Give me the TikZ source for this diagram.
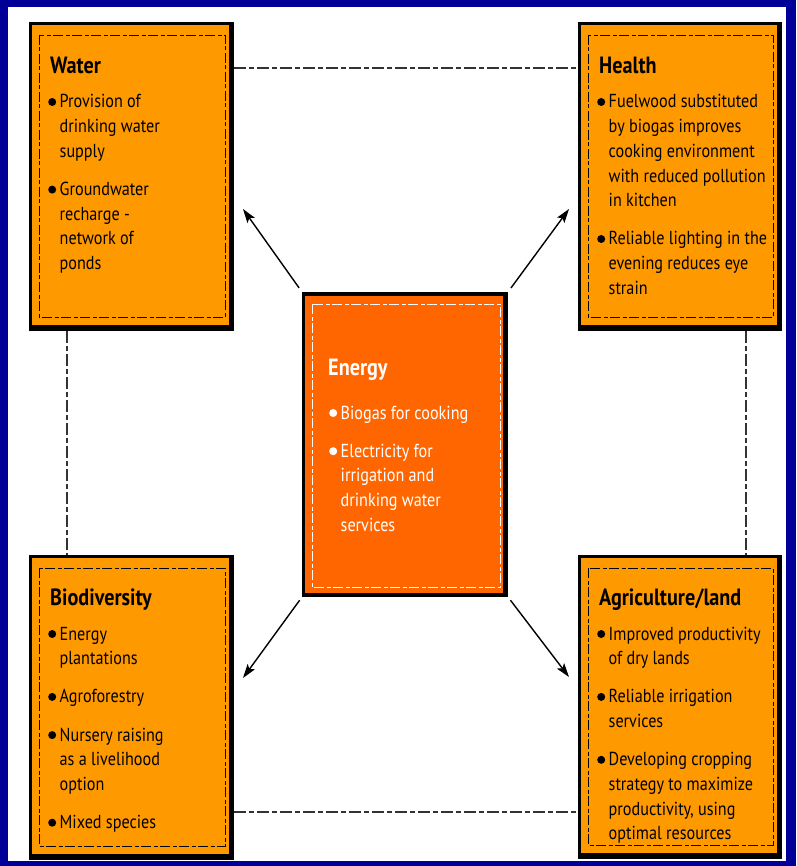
\documentclass[tikz,border=0pt]{standalone}
\usepackage{fontspec}
\setmainfont{PT Sans}[FakeStretch=0.86]
\usetikzlibrary{arrows.meta,calc}
\definecolor{frameblue}{RGB}{0,0,153}
\definecolor{boxorange}{RGB}{255,153,0}
\definecolor{coreorange}{RGB}{255,102,0}
\newcommand{\bodyfont}{\fontsize{18.8}{24.7}\selectfont}
\newcommand{\titlefont}{\fontsize{23.5}{26}\selectfont\bfseries}
\newcommand{\bdot}[1][black]{\tikz[baseline=0pt]\fill[#1] (0pt,6pt) circle (4pt);}
\newcommand{\gap}{\\[13.5pt]}
\tikzset{
  boxouter/.style={rectangle, fill=black, inner sep=0pt, outer sep=0pt},
  innerdash/.style={line width=0.9pt, dash pattern=on 10pt off 2.5pt on 4pt off 2.5pt},
  link/.style={line width=1.1pt, draw=black!80, dash pattern=on 12pt off 3pt on 5pt off 3pt},
  arr/.style={line width=1.4pt, -{Stealth[length=14pt,width=9pt,inset=3pt]}},
  boxtitle/.style={anchor=base west, inner sep=0pt, font=\titlefont},
  boxtext/.style={anchor=base west, inner sep=0pt, font=\bodyfont, align=left}
}
\begin{document}
\begin{tikzpicture}[x=1pt,y=-1pt]
\useasboundingbox (0,0) rectangle (796,866);
\fill[frameblue] (0,0) rectangle (796,866);
\fill[white] (8,7) rectangle (786,861);

% boxes
\node[boxouter, minimum width=205pt, minimum height=309pt] (water) at (131.5,176.5) {};
\node[boxouter, minimum width=204pt, minimum height=309pt] (health) at (680,176.5) {};
\node[boxouter, minimum width=205pt, minimum height=305pt] (bio) at (131.5,707.5) {};
\node[boxouter, minimum width=204pt, minimum height=304pt] (agri) at (680,707) {};
\node[boxouter, minimum width=206pt, minimum height=305pt] (energy) at (405,444.5) {};

\foreach \b in {water,health,bio,agri}{
  \fill[boxorange] ($(\b.north west)+(3,3)$) rectangle ($(\b.south east)+(-5,-6)$);
  \draw[innerdash, black] ($(\b.north west)+(10,13)$) rectangle ($(\b.south east)+(-9,-14)$);
}
\fill[coreorange] ($(energy.north west)+(3,4)$) rectangle ($(energy.south east)+(-5,-4)$);
\draw[innerdash, white] ($(energy.north west)+(10,12)$) rectangle ($(energy.south east)+(-8,-10)$);

% links
\draw[link] ($(water.north east)+(0,46)$) -- ($(health.north west)+(0,46)$);
\draw[link] ($(water.south west)+(38,0)$) -- ($(bio.north west)+(38,0)$);
\draw[link] ($(health.south west)+(168,0)$) -- ($(agri.north west)+(168,0)$);
\draw[link] ($(bio.north east)+(0,257)$) -- ($(agri.north west)+(0,257)$);

% arrows
\coordinate (tipW) at (243,209);
\coordinate (tipH) at (569,209);
\coordinate (tipB) at (243,678);
\coordinate (tipA) at (569,677);
\draw[arr, shorten <=5pt] (energy.north west) -- (tipW);
\draw[arr, shorten <=5pt] (energy.north east) -- (tipH);
\draw[arr, shorten <=4pt] (energy.south west) -- (tipB);
\draw[arr, shorten <=4pt] (energy.south east) -- (tipA);

% texts
\node[boxtitle] (wt) at (50,74) {Water};
\node[boxtext] (wx) at (48,108) {\begin{tabular}[t]{@{}l@{\hspace{3.5pt}}l@{}}
\bdot & Provision of\\ & drinking water\\ & supply\gap
\bdot & Groundwater\\ & recharge -\\ & network of\\ & ponds
\end{tabular}};

\node[boxtitle] (ht) at (599,74) {Health};
\node[boxtext] (hx) at (597,108) {\begin{tabular}[t]{@{}l@{\hspace{3.5pt}}l@{}}
\bdot & Fuelwood substituted\\ & by biogas improves\\ & cooking environment\\ & with reduced pollution\\ & in kitchen\gap
\bdot & Reliable lighting in the\\ & evening reduces eye\\ & strain
\end{tabular}};

\node[boxtitle, text=white] (et) at (328,375) {Energy};
\node[boxtext, text=white] (ex) at (329,419) {\begin{tabular}[t]{@{}l@{\hspace{3.5pt}}l@{}}
\bdot[white] & Biogas for cooking\gap
\bdot[white] & Electricity for\\ & irrigation and\\ & drinking water\\ & services
\end{tabular}};

\node[boxtitle] (bt) at (50,605) {Biodiversity};
\node[boxtext] (bx) at (48,640) {\begin{tabular}[t]{@{}l@{\hspace{3.5pt}}l@{}}
\bdot & Energy\\ & plantations\gap
\bdot & Agroforestry\gap
\bdot & Nursery raising\\ & as a livelihood\\ & option\gap
\bdot & Mixed species
\end{tabular}};

\node[boxtitle] (at) at (599,605) {Agriculture/land};
\node[boxtext] (ax) at (597,640) {\begin{tabular}[t]{@{}l@{\hspace{3.5pt}}l@{}}
\bdot & Improved productivity\\ & of dry lands\gap
\bdot & Reliable irrigation\\ & services\gap
\bdot & Developing cropping\\ & strategy to maximize\\ & productivity, using\\ & optimal resources
\end{tabular}};
\end{tikzpicture}
\end{document}
